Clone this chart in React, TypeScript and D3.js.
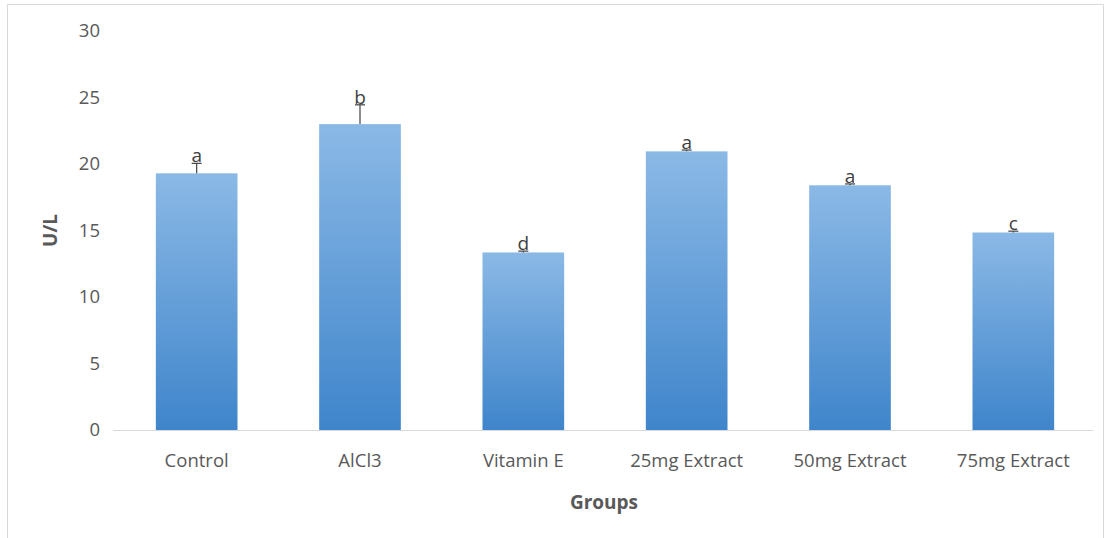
import React from "react";
import * as d3 from "d3";

const categories = ["Control", "AlCl3", "Vitamin E", "25mg Extract", "50mg Extract", "75mg Extract"];
const values = [19.3, 23.0, 13.35, 20.95, 18.4, 14.85];
const errors = [0.75, 1.45, 0.1, 0.1, 0.1, 0.1];
const letters = ["a", "b", "d", "a", "a", "c"];
const yTicks = [0, 5, 10, 15, 20, 25, 30];

const W = 1110;
const H = 538;
const left = 113;
const right = 1093;
const top = 31;
const bottom = 430;
const font = "'Open Sans', 'Noto Sans', sans-serif";

export default function App() {
  const x = d3.scaleBand<string>().domain(categories).range([left + 2, right + 2]).paddingInner(0.5).paddingOuter(0.25);
  const y = d3.scaleLinear().domain([0, 30]).range([bottom, top]);
  const bw = x.bandwidth();
  return (
    <svg width={W} height={H} style={{ position: "absolute", left: 0, top: 0, background: "#fff" }}>
      <defs>
        <linearGradient id="barGrad" x1="0" y1="0" x2="0" y2="1">
          <stop offset="0%" stopColor="#8bb9e6" />
          <stop offset="100%" stopColor="#3f85cb" />
        </linearGradient>
      </defs>
      <path d={`M7.5,${H} V4.5 H1103.5 V${H}`} fill="none" stroke="#d9d9d9" strokeWidth={1} />
      <line x1={left} x2={right} y1={bottom + 0.5} y2={bottom + 0.5} stroke="#d9d9d9" strokeWidth={1} />
      {yTicks.map((t) => (
        <text key={t} x={100} y={y(t)} dy="0.35em" textAnchor="end" fontFamily={font} fontSize={18.5} fill="#595959">
          {t}
        </text>
      ))}
      {categories.map((c, i) => {
        const x0 = x(c)!;
        const cx = x0 + bw / 2;
        const yv = y(values[i]);
        const ye = y(values[i] + errors[i]);
        return (
          <g key={c}>
            <rect x={x0} y={yv} width={bw} height={bottom - yv} fill="url(#barGrad)" />
            <line x1={cx} x2={cx} y1={yv} y2={ye} stroke="#404040" strokeWidth={1.2} />
            <line x1={cx - 5} x2={cx + 5} y1={ye} y2={ye} stroke="#404040" strokeWidth={1.2} />
            <text x={cx} y={ye - 1} textAnchor="middle" fontFamily={font} fontSize={19} fill="#404040">
              {letters[i]}
            </text>
            <text x={cx} y={467} textAnchor="middle" fontFamily={font} fontSize={18.5} fill="#595959">
              {c}
            </text>
          </g>
        );
      })}
      <text x={(left + right) / 2 + 1} y={509} textAnchor="middle" fontFamily={font} fontSize={19} fontWeight="bold" fill="#595959">
        Groups
      </text>
      <text
        transform={`translate(57, ${(top + bottom) / 2}) rotate(-90)`}
        textAnchor="middle"
        fontFamily={font}
        fontSize={19}
        fontWeight="bold"
        fill="#595959"
      >
        U/L
      </text>
    </svg>
  );
}
